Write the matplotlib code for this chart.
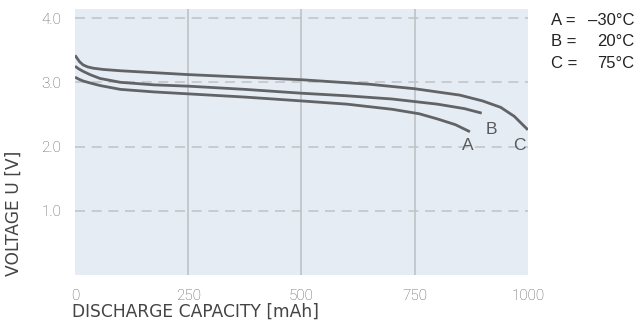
import matplotlib.pyplot as plt

# data
cap_a = [0, 8, 18, 33, 55, 100, 175, 250, 375, 500, 600, 700, 760, 800, 840, 872]
volt_a = [3.08, 3.05, 3.02, 2.99, 2.95, 2.89, 2.85, 2.82, 2.77, 2.71, 2.66, 2.58, 2.51, 2.43, 2.34, 2.23]

cap_b = [0, 8, 18, 33, 55, 100, 175, 250, 375, 500, 600, 700, 800, 860, 898]
volt_b = [3.25, 3.21, 3.17, 3.12, 3.06, 3.00, 2.96, 2.94, 2.89, 2.83, 2.79, 2.74, 2.66, 2.59, 2.52]

cap_c = [0, 4, 10, 18, 28, 40, 62, 100, 250, 500, 650, 750, 850, 900, 940, 970, 1000]
volt_c = [3.42, 3.38, 3.32, 3.27, 3.24, 3.22, 3.20, 3.18, 3.12, 3.04, 2.97, 2.90, 2.80, 2.71, 2.61, 2.47, 2.26]

curve_labels = ["A", "B", "C"]
label_pos = [(868, 2.02), (920, 2.27), (982, 2.02)]
legend_keys = ["A =", "B =", "C ="]
legend_vals = ["\u201330\u00b0C", "20\u00b0C", "75\u00b0C"]

xticks = [0, 250, 500, 750, 1000]
yticks = [1.0, 2.0, 3.0, 4.0]

plt.rcParams['font.family'] = ['Liberation Sans', 'DejaVu Sans']

fig = plt.figure(figsize=(6.36, 3.25), dpi=100)
ax = fig.add_axes([0.118, 0.154, 0.712, 0.818])
ax.set_facecolor('#e5ecf4')

line_col = '#626366'
for x, y in [(cap_a, volt_a), (cap_b, volt_b), (cap_c, volt_c)]:
    ax.plot(x, y, color=line_col, lw=2.0, solid_capstyle='butt', zorder=3)

for lab, (x, y) in zip(curve_labels, label_pos):
    ax.text(x, y, lab, color='#5a5a5d', fontsize=12.5, ha='center', va='center', zorder=4)

ax.set_xlim(0, 1000)
ax.set_ylim(0, 4.14)
ax.set_xticks(xticks)
ax.set_yticks(yticks)
ax.set_xticklabels([str(t) for t in xticks])
ax.set_yticklabels([f"{t:.1f}" for t in yticks])

for y in yticks:
    ax.axhline(y, color='#c3c6ca', lw=1.2, ls=(0, (6, 4)), zorder=1)
for x in xticks[1:-1]:
    ax.axvline(x, color='#bfc2c6', lw=1.2, zorder=1)

for s in ax.spines.values():
    s.set_visible(False)
ax.tick_params(length=0, colors='#5c5c5c', labelsize=11, pad=10)
ax.tick_params(axis='x', pad=10)
for t in ax.get_xticklabels() + ax.get_yticklabels():
    t.set_fontfamily('Roboto')
    t.set_fontweight('light')

fig.text(0.113, 0.012, "DISCHARGE CAPACITY [mAh]", color='#444446', fontsize=12.3,
         family='DejaVu Sans', ha='left', va='bottom')
fig.text(0.008, 0.150, "VOLTAGE U [V]", color='#444446', fontsize=12.3,
         family='DejaVu Sans', rotation=90, ha='left', va='bottom')

for i, (k, v) in enumerate(zip(legend_keys, legend_vals)):
    yy = 0.938 - i * 0.067
    fig.text(0.866, yy, k, color='#222222', fontsize=12, ha='left', va='center')
    fig.text(0.998, yy, v, color='#222222', fontsize=12, ha='right', va='center')

fig.savefig('out.png', dpi=100)
